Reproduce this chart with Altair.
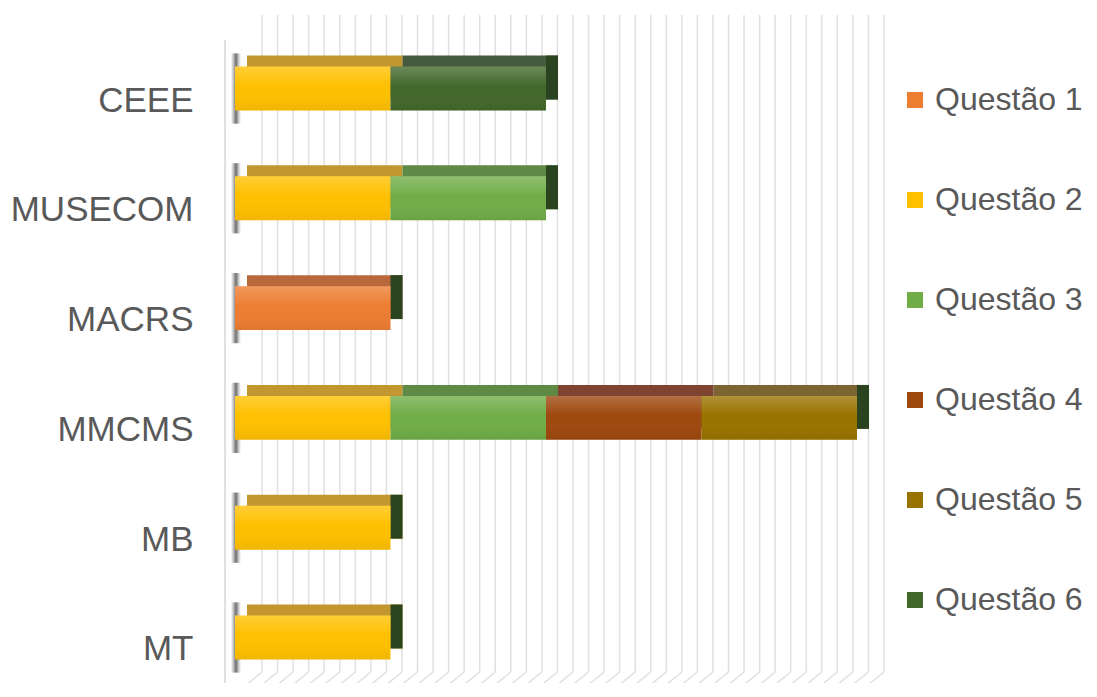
import altair as alt
import pandas as pd

categories = ["CEEE", "MUSECOM", "MACRS", "MMCMS", "MB", "MT"]
questions = ["Questão 1", "Questão 2", "Questão 3", "Questão 4", "Questão 5", "Questão 6"]
q1 = [0, 0, 1, 0, 0, 0]
q2 = [1, 1, 0, 1, 1, 1]
q3 = [0, 1, 0, 1, 0, 0]
q4 = [0, 0, 0, 1, 0, 0]
q5 = [0, 0, 0, 1, 0, 0]
q6 = [1, 0, 0, 0, 0, 0]
series = [q1, q2, q3, q4, q5, q6]

front_colors = ["#ED7D31", "#FFC000", "#70AD47", "#9E480E", "#997300", "#43682B"]
top_colors = ["#B9683C", "#C3972F", "#5E8A46", "#7E4431", "#7C6533", "#465A3D"]
side_color = "#2A4420"
grid_ticks = [round(0.1 * k, 1) for k in range(41)]

rows = []
for i, c in enumerate(categories):
    s = 0
    for j, q in enumerate(questions):
        v = series[j][i]
        if v > 0:
            rows.append(dict(cat=c, q=q, start=s, end=s + v, topc=top_colors[j]))
            s += v
df = pd.DataFrame(rows)
tot = df.groupby("cat", sort=False)["end"].max().reset_index()
grid = pd.DataFrame({"v": grid_ticks})

xs = alt.Scale(domain=[0, 4], nice=False, zero=True)
ys = alt.Scale(domain=categories, paddingInner=0.6, paddingOuter=0.2145)
yaxis = alt.Axis(title=None, domain=False, ticks=False, grid=False,
                 labelFontSize=35, labelColor="#595959", labelFont="Liberation Sans",
                 labelPadding=42, labelOffset=12, labelLimit=400)


def ycat():
    return alt.Y("cat:N", scale=ys, sort=categories, axis=yaxis)


gridlines = alt.Chart(grid).mark_rule(color="#e0e0e0", strokeWidth=1.5, xOffset=27).encode(
    x=alt.X("v:Q", scale=xs, axis=None),
    y=alt.value(-28), y2=alt.value(629),
)
diag = alt.Chart(grid).mark_rule(color="#e0e0e0", strokeWidth=1.5, xOffset=27, x2Offset=0).encode(
    x=alt.X("v:Q", scale=xs, axis=None), x2="v:Q",
    y=alt.value(629), y2=alt.value(651),
)
wall = alt.Chart(pd.DataFrame({"v": [0]})).mark_rule(color="#d6d6d6", strokeWidth=1.5, xOffset=-10).encode(
    x=alt.X("v:Q", scale=xs, axis=None),
    y=alt.value(-3), y2=alt.value(660),
)

shadow_grad = alt.LinearGradient(
    gradient="linear", x1=0, y1=0, x2=1, y2=0,
    stops=[alt.GradientStop(offset=0, color="rgba(90,90,90,0)"),
           alt.GradientStop(offset=0.5, color="rgba(60,60,60,0.75)"),
           alt.GradientStop(offset=1, color="rgba(120,120,120,0)")])
shadow = alt.Chart(tot).mark_bar(fill=shadow_grad, xOffset=-4, x2Offset=6, height={"band": 1.6}).encode(
    x=alt.X("zero:Q", scale=xs, axis=None), x2="zero:Q",
    y=ycat(),
).transform_calculate(zero="0")

top = alt.Chart(df).mark_bar(xOffset=12, x2Offset=12, yOffset=-11).encode(
    x=alt.X("start:Q", scale=xs, axis=None), x2="end:Q",
    y=ycat(),
    color=alt.Color("topc:N", scale=None),
)
side = alt.Chart(tot).mark_bar(color=side_color, xOffset=0, x2Offset=12, yOffset=-11).encode(
    x=alt.X("end:Q", scale=xs, axis=None), x2="end:Q",
    y=ycat(),
)
front = alt.Chart(df).mark_bar().encode(
    x=alt.X("start:Q", scale=xs, axis=None), x2="end:Q",
    y=ycat(),
    color=alt.Color("q:N", scale=alt.Scale(domain=questions, range=front_colors),
                    legend=alt.Legend(title=None, orient="none", legendX=664, legendY=41,
                                      symbolType="square", symbolSize=256, symbolStrokeWidth=0,
                                      labelFontSize=32, labelColor="#595959",
                                      labelFont="Liberation Sans", rowPadding=68,
                                      padding=0, labelOffset=4, labelLimit=300)),
)
shine = alt.LinearGradient(
    gradient="linear", x1=0, y1=0, x2=0, y2=1,
    stops=[alt.GradientStop(offset=0, color="rgba(255,255,255,0.22)"),
           alt.GradientStop(offset=0.45, color="rgba(255,255,255,0)"),
           alt.GradientStop(offset=1, color="rgba(0,0,0,0.06)")])
overlay = alt.Chart(df).mark_bar(fill=shine).encode(
    x=alt.X("start:Q", scale=xs, axis=None), x2="end:Q",
    y=ycat(),
)

chart = alt.layer(gridlines, diag, wall, shadow, top, side, front, overlay).properties(
    width=622, height=640,
    padding={"left": 227, "top": 35, "right": 232, "bottom": 0},
    autosize=alt.AutoSizeParams(type="none"),
    background="white",
).configure_view(stroke=None)

chart.save("out.html", embed_options={"renderer": "svg", "actions": False})
